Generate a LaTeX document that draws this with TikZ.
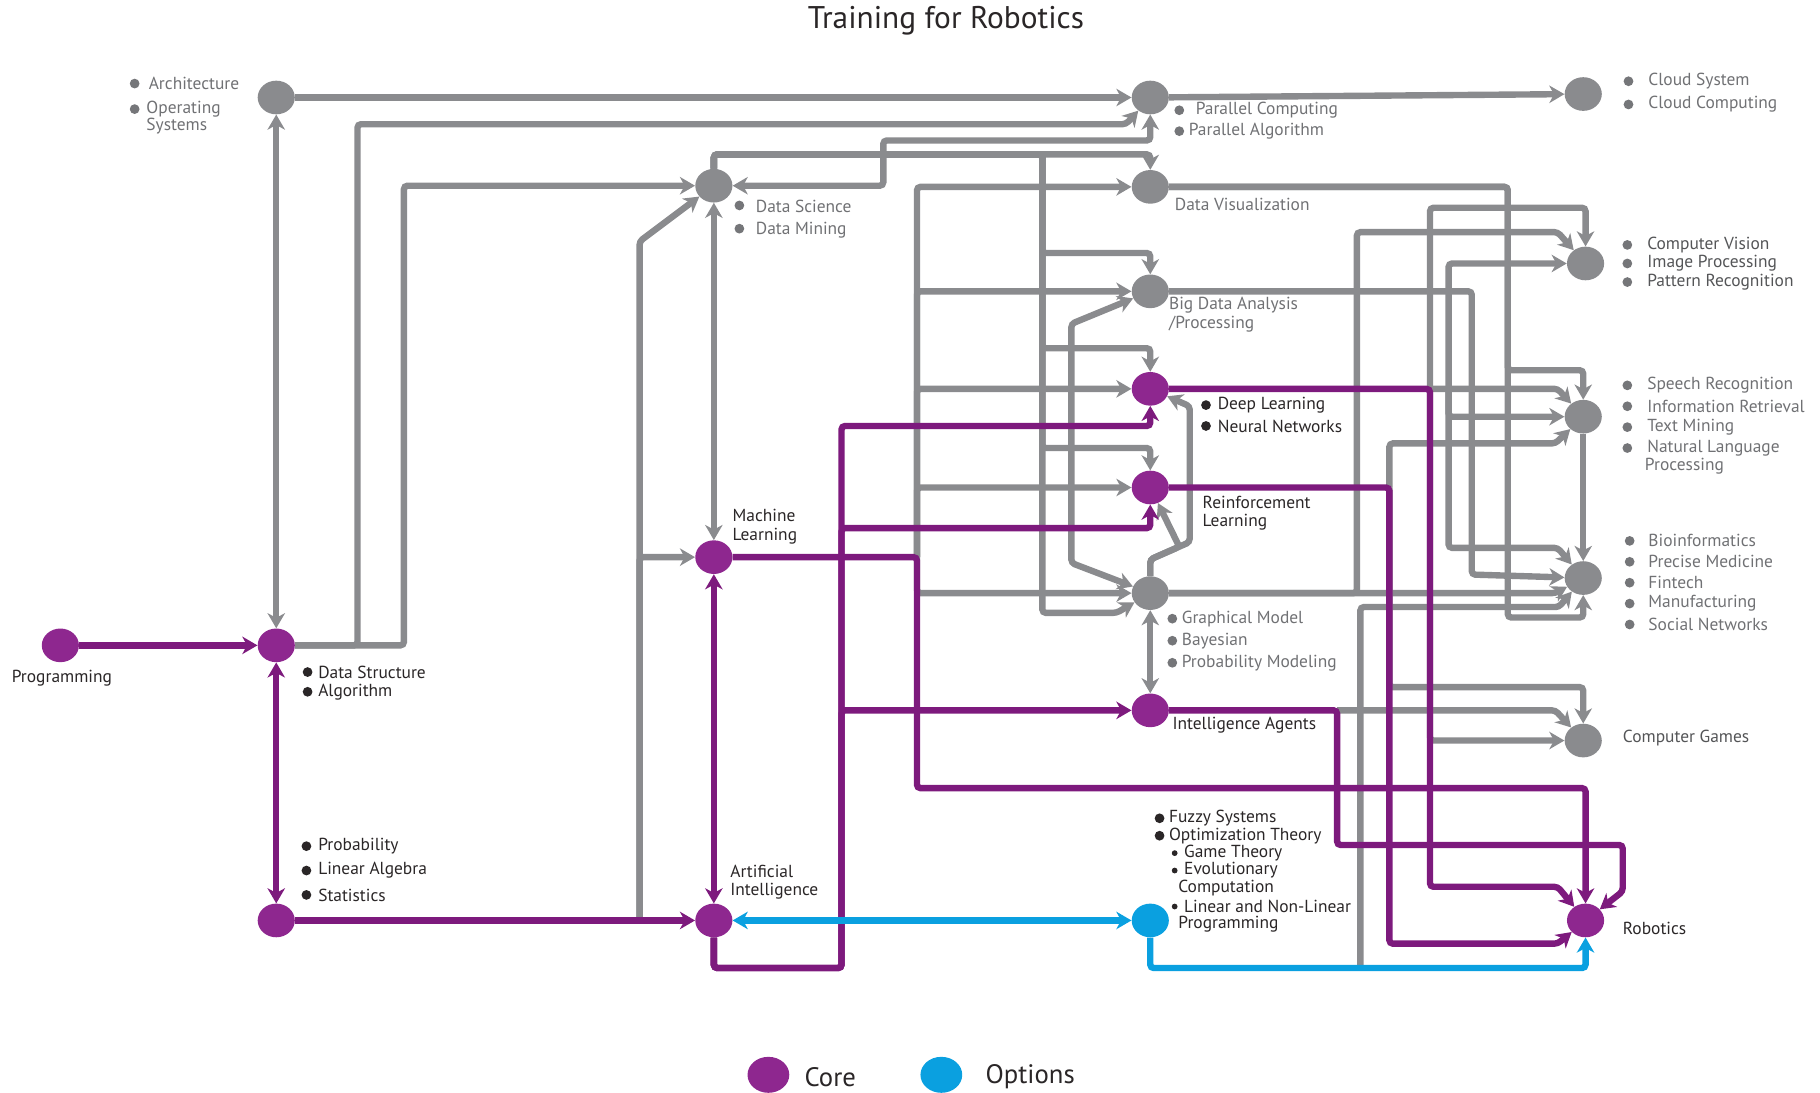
\documentclass[tikz,border=0pt]{standalone}
\usepackage{fontspec}
\setmainfont{PT Sans}
\usepackage{xcolor}
\usepackage{tikz}
\usetikzlibrary{arrows.meta,shapes.geometric}
\definecolor{gline}{HTML}{8A8B8E}
\definecolor{core}{HTML}{7D1A7D}
\definecolor{corefill}{HTML}{8E278F}
\definecolor{optblue}{HTML}{0AA0E0}
\definecolor{gtext}{HTML}{707174}
\definecolor{ktext}{HTML}{2A2627}

\begin{document}
\begin{tikzpicture}[
    x=1pt, y=-1pt,
    >={Stealth[length=13pt,width=15pt,inset=4pt]},
    every node/.style={font=\fontsize{15}{16}\selectfont},
    gnode/.style={ellipse,fill=gline,minimum width=32pt,minimum height=29pt,inner sep=0pt},
    cnode/.style={gnode,fill=corefill},
    onode/.style={gnode,fill=optblue},
    garr/.style={draw=gline,line width=5.5pt,->,rounded corners=3pt},
    gbi/.style={garr,<->},
    carr/.style={garr,draw=core},
    cbi/.style={carr,<->},
    oarr/.style={garr,draw=optblue},
    obi/.style={oarr,<->},
    glbl/.style={anchor=west,inner sep=0pt,text=gtext,align=left},
    dlbl/.style={glbl,text=gtext!75!black},
    klbl/.style={glbl,text=ktext},
    gdot/.style={fill=gline!85!black},
    kdot/.style={fill=ktext}
  ]
  \useasboundingbox (0,0) rectangle (1568,941);

  \node[cnode] (prog) at (52,556) {};
  \node[cnode] (dsa) at (238,556) {};
  \node[gnode] (arch) at (238,84) {};
  \node[cnode] (stat) at (238,793) {};
  \node[gnode] (dsci) at (615,160) {};
  \node[cnode] (ml) at (615,480) {};
  \node[cnode] (ai) at (615,793) {};
  \node[gnode] (par) at (991,84) {};
  \node[gnode] (dviz) at (991,161) {};
  \node[gnode] (bigd) at (991,251) {};
  \node[cnode] (dl) at (991,335) {};
  \node[cnode] (rl) at (991,420) {};
  \node[gnode] (gm) at (991,511) {};
  \node[cnode] (ia) at (991,612) {};
  \node[onode] (opt) at (991,793) {};
  \node[gnode] (cloud) at (1364,81) {};
  \node[gnode] (cv) at (1366,227) {};
  \node[gnode] (speech) at (1364,359) {};
  \node[gnode] (bio) at (1364,498) {};
  \node[gnode] (games) at (1364,638) {};
  \node[cnode] (robo) at (1366,793) {};

  \coordinate (sj) at (551,793);
  \coordinate (mj) at (790,480);
  \coordinate (dlj) at (1232,335);
  \coordinate (dlk) at (1248,335);
  \coordinate (rlj) at (1197,420);
  \coordinate (iaj) at (1152,612);
  \coordinate (oj) at (1172,834);

  \draw[garr] (arch) -- (par);
  \draw[garr] (par) -- (cloud);
  \draw[gbi] (dsa) -- (arch);
  \draw[garr] (dsa) -- (308,556) -- (308,107) -- (970,107) -- (par);
  \draw[garr] (dsa) -- (348,556) -- (348,160) -- (dsci);
  \draw[garr] (sj) -- (551,208) -- (dsci);
  \draw[garr] (sj) -- (551,480) -- (ml);
  \draw[gbi] (dsci) -- (ml);
  \draw[gbi] (dsci) -- (761,160) -- (761,121) -- (991,121) -- (par);
  \draw[garr] (dsci) -- (615,133) -- (991,133) -- (dviz);
  \foreach \y/\n in {218/bigd,300/dl,386/rl}
    \draw[garr] (dsci) -- (615,133) -- (898,133) -- (898,\y) -- (991,\y) -- (\n);
  \draw[garr] (dsci) -- (615,133) -- (898,133) -- (898,528) -- (962,528) -- (gm);
  \foreach \n in {dviz,bigd,dl,rl,gm}
    \draw[garr] (mj) |- (\n);
  \draw[gbi] (bigd) -- (923,279) -- (923,485) -- (gm);
  \draw[garr] (gm) -- (991,482) -- (1025,467) -- (1025,350) -- (dl);
  \draw[garr] (gm) -- (991,482) -- (1016,471) -- (rl);
  \draw[gbi] (gm) -- (ia);

  \draw[garr] (dviz) -- (1299,161) -- (1299,319) -- (1364,319) -- (speech);
  \draw[garr] (dviz) -- (1299,161) -- (1299,532) -- (1364,532) -- (bio);
  \draw[garr] (bigd) -- (1268,251) -- (1268,495) -- (bio);
  \draw[garr] (dlj) -- (1232,179) -- (1366,179) -- (cv);
  \draw[garr] (dlj) -- (1342,335) -- (speech);
  \draw[garr] (dlj) |- (games);
  \draw[garr] (dlk) |- (cv);
  \draw[garr] (dlk) |- (speech);
  \draw[garr] (dlk) -- (1248,472) -- (1342,472) -- (bio);
  \draw[garr] (rlj) -- (1197,382) -- (1340,382) -- (speech);
  \draw[garr] (rlj) -- (1197,592) -- (1364,592) -- (games);
  \draw[garr] (gm) -- (1169,511) -- (1169,200) -- (1342,200) -- (cv);
  \draw[garr] (gm) -- (1340,511) -- (bio);
  \draw[garr] (oj) -- (1172,523) -- (1343,523) -- (bio);
  \draw[garr] (iaj) -- (1340,612) -- (games);
  \draw[garr] (speech) -- (bio);

  \draw[carr] (prog) -- (dsa);
  \draw[cbi] (dsa) -- (stat);
  \draw[carr] (stat) -- (ai);
  \draw[cbi] (ml) -- (ai);
  \draw[carr] (ai) -- (615,834) -- (725,834) -- (725,367) -- (991,367) -- (dl);
  \draw[carr] (ai) -- (615,834) -- (725,834) -- (725,455) -- (991,455) -- (rl);
  \draw[carr] (ai) -- (615,834) -- (725,834) -- (725,612) -- (ia);
  \draw[carr] (ml) -- (790,480) -- (790,679) -- (1366,679) -- (robo);
  \draw[carr] (dl) -- (1232,335) -- (1232,764) -- (1342,764) -- (robo);
  \draw[carr] (rl) -- (1197,420) -- (1197,813) -- (1342,813) -- (robo);
  \draw[carr] (ia) -- (1152,612) -- (1152,728) -- (1398,728) -- (1398,768) -- (robo);

  \draw[obi] (ai) -- (opt);
  \draw[oarr] (opt) -- (991,834) -- (1366,834) -- (robo);

  \node[font=\fontsize{27}{30}\selectfont,text=ktext] (title) at (815,18) {Training for Robotics};

  \fill[gdot] (116,72) circle (4.2);
  \node[glbl] (archl) at (128,72) {Architecture};
  \fill[gdot] (116,94) circle (4.2);
  \node[glbl] (osl) at (126,94) {Operating};
  \node[glbl] (osl2) at (126,109) {Systems};

  \foreach \t [count=\i from 0] in {Data Science,Data Mining}
    {\fill[gdot] (637,177+20*\i) circle (4.2);
     \node[glbl] (dsl\i) at (651,178+20*\i) {\t};}
  \fill[gdot] (1016,95) circle (4.2);
  \node[glbl] (parl0) at (1030,95) {Parallel Computing};
  \fill[gdot] (1016,113) circle (4.2);
  \node[glbl] (parl1) at (1024,113) {Parallel Algorithm};
  \foreach \t [count=\i from 0] in {Cloud System,Cloud Computing}
    {\fill[gdot] (1403,70+20*\i) circle (4.2);
     \node[glbl] (cll\i) at (1420,70+20*\i) {\t};}
  \node[glbl] (dvizl) at (1012,176) {Data Visualization};
  \node[glbl] (bigdl) at (1007,271) {Big Data Analysis\\/Processing};
  \foreach \t [count=\i from 0] in {Computer Vision,Image Processing,Pattern Recognition}
    {\fill[gdot] (1402,211+16*\i) circle (4.2);
     \node[dlbl] (cvl\i) at (1419,211+16*\i) {\t};}
  \foreach \t [count=\i from 0] in {Speech Recognition,Information Retrieval,Text Mining,Natural Language}
    {\fill[gdot] (1402,332+18*\i) circle (4.2);
     \node[glbl] (spl\i) at (1419,332+18*\i) {\t};}
  \node[glbl] (spl4) at (1417,402) {Processing};
  \foreach \t [count=\i from 0] in {Bioinformatics,Precise Medicine,Fintech,Manufacturing,Social Networks}
    {\fill[gdot] (1404,466+18*\i) circle (4.2);
     \node[glbl] (biol\i) at (1420,466+18*\i) {\t};}
  \foreach \t [count=\i from 0] in {Graphical Model,Bayesian,Probability Modeling}
    {\fill[gdot] (1010,533+19*\i) circle (4.2);
     \node[glbl] (gml\i) at (1018,533+19*\i) {\t};}
  \node[dlbl] (gamesl) at (1398,636) {Computer Games};

  \foreach \t [count=\i from 0] in {Deep Learning,Neural Networks}
    {\fill[kdot] (1039,349+18*\i) circle (4.2);
     \node[klbl] (dll\i) at (1049,349+18*\i) {\t};}
  \node[klbl] (rll) at (1036,442) {Reinforcement\\Learning};
  \node[klbl] (mll) at (631,454) {Machine\\Learning};
  \node[klbl] (progl) at (10,584) {Programming};
  \foreach \t [count=\i from 0] in {Data Structure,Algorithm}
    {\fill[kdot] (265,579+17*\i) circle (4.2);
     \node[klbl] (dsal\i) at (274,579+17*\i) {\t};}
  \foreach \t [count=\i from 0] in {Probability,Linear Algebra,Statistics}
    {\fill[kdot] (264,729+21*\i) circle (4.2);
     \node[klbl] (statl\i) at (274,729+21*\i) {\t};}
  \node[klbl] (ial) at (1010,625) {Intelligence Agents};
  \node[klbl] (ail) at (629,760) {Artificial\\Intelligence};
  \node[klbl] (robol) at (1398,800) {Robotics};

  \foreach \t [count=\i from 0] in {Fuzzy Systems,Optimization Theory}
    {\fill[kdot] (999,705+15*\i) circle (4.2);
     \node[klbl] (optl\i) at (1007,705+15*\i) {\t};}
  \fill[kdot] (1012,735) circle (2.5);
  \node[klbl] (optl2) at (1020,735) {Game Theory};
  \fill[kdot] (1012,750) circle (2.5);
  \node[klbl] (optl3) at (1020,750) {Evolutionary};
  \node[klbl] (optl4) at (1015,765) {Computation};
  \fill[kdot] (1012,781) circle (2.5);
  \node[klbl] (optl5) at (1020,781) {Linear and Non-Linear};
  \node[klbl] (optl6) at (1015,796) {Programming};

  \node[cnode,minimum width=36pt,minimum height=31pt] (lgcore) at (662,926) {};
  \node[klbl,font=\fontsize{23}{26}\selectfont] (lgcorel) at (693,928) {Core};
  \node[onode,minimum width=36pt,minimum height=31pt] (lgopt) at (811,926) {};
  \node[klbl,font=\fontsize{23}{26}\selectfont] (lgoptl) at (849,928) {Options};
\end{tikzpicture}
\end{document}
